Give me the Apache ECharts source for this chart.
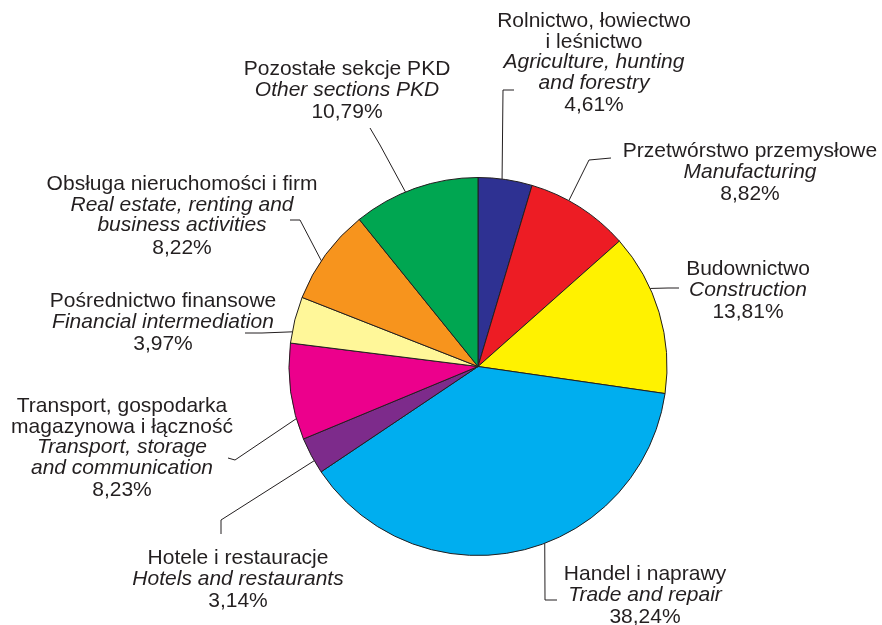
<!DOCTYPE html>
<html>
<head>
<meta charset="utf-8">
<script src="https://cdn.jsdelivr.net/npm/echarts@6/dist/echarts.min.js"></script>
<style>
html,body{margin:0;padding:0;background:#fff;}
#chart{width:882px;height:625px;}
</style>
</head>
<body>
<div id="chart"></div>
<script>
// ---- data ----
const namesPl = [
  'Rolnictwo, łowiectwo\ni leśnictwo',
  'Przetwórstwo przemysłowe',
  'Budownictwo',
  'Handel i naprawy',
  'Hotele i restauracje',
  'Transport, gospodarka\nmagazynowa i łączność',
  'Pośrednictwo finansowe',
  'Obsługa nieruchomości i firm',
  'Pozostałe sekcje PKD'
];
const namesEn = [
  'Agriculture, hunting\nand forestry',
  'Manufacturing',
  'Construction',
  'Trade and repair',
  'Hotels and restaurants',
  'Transport, storage\nand communication',
  'Financial intermediation',
  'Real estate, renting and\nbusiness activities',
  'Other sections PKD'
];
const shares = [4.61, 8.82, 13.81, 38.24, 3.14, 8.23, 3.97, 8.22, 10.79];
const colors = ['#2e3192', '#ed1c24', '#fff200', '#00aeef', '#7d2b8b', '#ec008c', '#fff799', '#f7941d', '#00a651'];

// ---- layout (not data) ----
const CX = 478, CY = 366.5, R = 189;
const FONT = 'Liberation Sans, Arial, sans-serif';
const labelPos = [[594, 11], [750, 141], [748, 259], [645, 564], [238, 548], [122, 396], [163, 291], [182, 174], [347, 59]];
const anchorFrac = [0.44, 0.38, 0.345, 0.443, 0.35, 0.22, 0.24, 0.424, 0.42];
const guides = [
  [[503, 90], [514, 90]],
  [[589, 160], [611, 158]],
  [[668, 288], [679, 288]],
  [[545, 600], [557, 600]],
  [[221, 520], [221, 534]],
  [[235, 460], [228, 458]],
  [[262, 333], [245, 333]],
  [[300, 220], [290, 220]],
  [[380, 145], [370, 128]]
];

const total = shares.reduce((a, b) => a + b, 0);
const cum = [];
shares.reduce((acc, v, i) => { cum[i] = acc; return acc + v; }, 0);

function fmtVal(v) { return v.toFixed(2).replace('.', ',') + '%'; }

const data = shares.map((v, i) => ({
  value: v,
  name: namesPl[i],
  itemStyle: { color: colors[i] }
}));

const chart = echarts.init(document.getElementById('chart'), null, { renderer: 'canvas' });
chart.setOption({
  backgroundColor: '#ffffff',
  animation: false,
  series: [{
    type: 'pie',
    center: [CX, CY],
    radius: [0, R],
    startAngle: 90,
    clockwise: true,
    avoidLabelOverlap: false,
    data: data,
    itemStyle: { borderColor: '#231f20', borderWidth: 1 },
    emphasis: { disabled: true },
    label: {
      show: true,
      position: 'outside',
      color: '#231f20',
      fontFamily: FONT,
      fontSize: 21,
      align: 'center',
      formatter: function (p) {
        const i = p.dataIndex;
        const pl = namesPl[i].split('\n').map(s => '{pl|' + s + '}');
        const en = namesEn[i].split('\n').map(s => '{en|' + s + '}');
        return pl.concat(en).concat(['{v|' + fmtVal(shares[i]) + '}']).join('\n');
      },
      rich: {
        pl: { fontSize: 21, lineHeight: 20.5, color: '#231f20', fontFamily: FONT, align: 'center' },
        en: { fontSize: 21, lineHeight: 20.5, fontStyle: 'italic', color: '#231f20', fontFamily: FONT, align: 'center' },
        v: { fontSize: 21, lineHeight: 25, color: '#231f20', fontFamily: FONT, align: 'center' }
      }
    },
    labelLine: {
      show: true,
      length: 10,
      length2: 10,
      smooth: false,
      lineStyle: { color: '#231f20', width: 1 }
    },
    labelLayout: function (params) {
      const i = params.dataIndex;
      const ang = (cum[i] + anchorFrac[i] * shares[i]) / total * Math.PI * 2;
      const ax = CX + R * Math.sin(ang);
      const ay = CY - R * Math.cos(ang);
      return {
        x: labelPos[i][0],
        y: labelPos[i][1],
        align: 'center',
        verticalAlign: 'top',
        labelLinePoints: [[ax, ay], guides[i][0], guides[i][1]]
      };
    }
  }]
});
</script>
</body>
</html>
